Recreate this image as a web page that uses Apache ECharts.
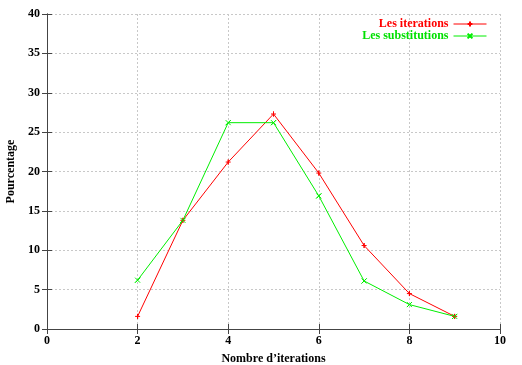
<!DOCTYPE html>
<html><head><meta charset="utf-8">
<script src="https://cdn.jsdelivr.net/npm/echarts@6/dist/echarts.min.js"></script>
<style>html,body{margin:0;padding:0;background:#fff}#c{width:522px;height:365px}</style>
</head><body><div id="c"></div>
<script>
const iterX = [2,3,4,5,6,7,8,9];
const iterations = [1.6,13.8,21.2,27.3,19.8,10.6,4.5,1.6];
const substitutions = [6.2,13.8,26.2,26.2,16.9,6.1,3.1,1.6];
const seriesNames = ['Les iterations','Les substitutions'];
const xTitle = 'Nombre d\u2019iterations';
const yTitle = 'Pourcentage';

const font = 'Liberation Serif';
const plus = 'path://M0,5L10,5M5,0L5,10Z';
const cross = 'path://M0,0L10,10M10,0L0,10Z';
const chart = echarts.init(document.getElementById('c'));
const axisBase = {
  axisLine:{show:true,lineStyle:{color:'#444',width:1}},
  axisTick:{show:true,inside:true,length:5,lineStyle:{color:'#444'}},
};
chart.setOption({
  animation:false,
  textStyle:{fontFamily:font},
  grid:{left:47,right:22,top:14,bottom:36,containLabel:false,outerBoundsMode:'none'},
  legend:{
    orient:'vertical', right:30, top:13, align:'right', itemGap:0,
    itemWidth:33, itemHeight:6,
    lineStyle:{width:1},
    textStyle:{fontFamily:font,fontWeight:'bold',fontSize:12,padding:[0,0,0,0]},
    data:[{name:seriesNames[0],textStyle:{color:'#ff0000'}},{name:seriesNames[1],textStyle:{color:'#00e000'}}]
  },
  xAxis:[
    Object.assign({type:'value',min:0,max:10,interval:2,position:'bottom',
      name:xTitle,nameLocation:'middle',nameGap:24,
      nameTextStyle:{fontFamily:font,fontWeight:'bold',fontSize:12,color:'#000'},
      axisLabel:{fontFamily:font,fontWeight:'bold',fontSize:12,color:'#000',margin:6},
      splitLine:{show:true,lineStyle:{color:'#c8c8c8',type:[2,2]}}},axisBase),
    Object.assign({type:'value',min:0,max:10,interval:2,position:'top',
      axisLabel:{show:false},splitLine:{show:false}},axisBase)
  ],
  yAxis:[
    Object.assign({type:'value',min:0,max:40,interval:5,position:'left',
      name:yTitle,nameLocation:'middle',nameGap:27,nameRotate:90,
      nameTextStyle:{fontFamily:font,fontWeight:'bold',fontSize:12,color:'#000'},
      axisLabel:{fontFamily:font,fontWeight:'bold',fontSize:12,color:'#000',margin:7},
      splitLine:{show:true,lineStyle:{color:'#c8c8c8',type:[2,2]}}},axisBase),
    Object.assign({type:'value',min:0,max:40,interval:5,position:'right',
      axisLabel:{show:false},splitLine:{show:false}},axisBase)
  ],
  series:[
    {name:seriesNames[0],type:'line',data:iterX.map((x,i)=>[x,iterations[i]]),
     symbol:plus,symbolSize:5,showAllSymbol:true,
     lineStyle:{color:'#ff0000',width:1},itemStyle:{color:'#ff0000',borderColor:'#ff0000',borderWidth:1}},
    {name:seriesNames[1],type:'line',data:iterX.map((x,i)=>[x,substitutions[i]]),
     symbol:cross,symbolSize:5,showAllSymbol:true,
     lineStyle:{color:'#00ee00',width:1},itemStyle:{color:'#00ee00',borderColor:'#00ee00',borderWidth:1}}
  ]
});
</script></body></html>
